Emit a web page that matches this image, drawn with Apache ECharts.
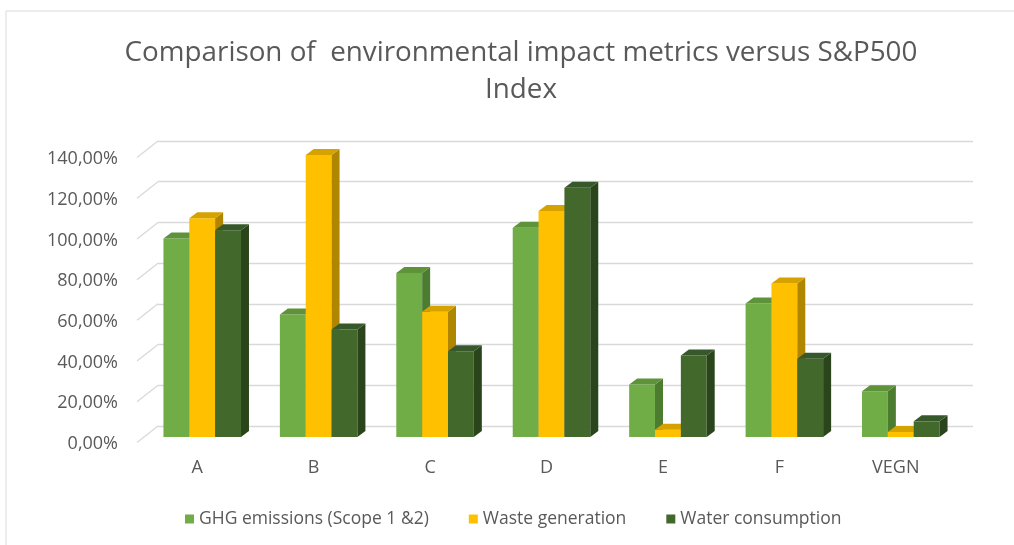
<!DOCTYPE html>
<html>
<head>
<meta charset="utf-8">
<script src="https://cdn.jsdelivr.net/npm/echarts@6/dist/echarts.min.js"></script>
<style>
  html, body { margin: 0; padding: 0; background: #fff; }
  #chart { width: 1014px; height: 545px; }
</style>
</head>
<body>
<div id="chart"></div>
<script>
var categories = ['A', 'B', 'C', 'D', 'E', 'F', 'VEGN'];
var seriesNames = ['GHG emissions (Scope 1 &2)', 'Waste generation', 'Water consumption'];
var ghgValues = [97.5, 60.2, 80.6, 102.8, 25.8, 65.6, 22.5];
var wasteValues = [107.4, 138.5, 61.5, 111.0, 3.6, 75.4, 2.5];
var waterValues = [101.6, 52.8, 42.1, 122.4, 40.0, 38.4, 7.7];
var yTicks = [0, 20, 40, 60, 80, 100, 120, 140];

// front / top / side colours per series
var faces = [
  { front: '#70AD47', top: '#5E933A', side: '#4C7C30' },
  { front: '#FFC000', top: '#D6A200', side: '#B08500' },
  { front: '#43682B', top: '#37582A', side: '#2A451B' }
];

var FONT = 'Open Sans';
var TEXT = '#595959';
var WALL_DX = -21, WALL_DY = 16.5;   // back wall -> front edge
var BAR_DX = -14, BAR_DY = 11;       // back wall -> bar front plane
var DEPTH_X = 8, DEPTH_Y = 6;        // bar depth in projection

function barRenderer(s) {
  return function (params, api) {
    var idx = api.value(0);
    var base = api.coord([idx, 0]);
    var top = api.coord([idx, api.value(1)]);
    var band = api.size([1, 0])[0];
    var w = band * 0.222;
    var x = base[0] + BAR_DX - 1.5 * w + s * w;
    var yb = base[1] + BAR_DY;
    var yt = top[1] + BAR_DY;
    var c = faces[s];
    return {
      type: 'group',
      children: [
        { type: 'rect', shape: { x: x, y: yt, width: w, height: yb - yt }, style: { fill: c.front } },
        { type: 'polygon', shape: { points: [[x + w, yt], [x + w + DEPTH_X, yt - DEPTH_Y], [x + w + DEPTH_X, yb - DEPTH_Y], [x + w, yb]] }, style: { fill: c.side } },
        { type: 'polygon', shape: { points: [[x, yt], [x + DEPTH_X, yt - DEPTH_Y], [x + w + DEPTH_X, yt - DEPTH_Y], [x + w, yt]] }, style: { fill: c.top } }
      ]
    };
  };
}

// diagonal wall ticks plus the value labels at the front edge
function tickRenderer(params, api) {
  var v = api.value(1);
  var p = api.coord([0, v]);
  var band = api.size([1, 0])[0];
  var xl = p[0] - band / 2;
  return {
    type: 'group',
    children: [
      {
        type: 'line',
        shape: { x1: xl, y1: p[1], x2: xl + WALL_DX, y2: p[1] + WALL_DY },
        style: { stroke: '#d9d9d9', lineWidth: 1.3 }
      },
      {
        type: 'text',
        style: {
          x: xl + WALL_DX - 19,
          y: p[1] + 18,
          text: v.toFixed(2).replace('.', ',') + '%',
          align: 'right',
          verticalAlign: 'middle',
          fontFamily: FONT,
          fontSize: 18,
          fill: TEXT
        }
      }
    ]
  };
}

var valueLists = [ghgValues, wasteValues, waterValues];
var barSeries = valueLists.map(function (vals, s) {
  return {
    name: seriesNames[s],
    type: 'custom',
    clip: false,
    itemStyle: { color: faces[s].front },
    renderItem: barRenderer(s),
    encode: { x: 0, y: 1 },
    data: vals.map(function (v, i) { return [i, v]; })
  };
});

var chart = echarts.init(document.getElementById('chart'));
chart.setOption({
  animation: false,
  graphic: [{
    type: 'rect',
    shape: { x: 6, y: 11, width: 1100, height: 600 },
    style: { fill: 'none', stroke: '#d9d9d9', lineWidth: 1 }
  }],
  title: {
    text: 'Comparison of  environmental impact metrics versus S&P500\nIndex',
    left: 516,
    top: 30,
    textAlign: 'center',
    textStyle: { fontFamily: FONT, fontSize: 27.8, fontWeight: 'normal', color: TEXT, lineHeight: 37 }
  },
  legend: {
    data: seriesNames,
    left: 180,
    top: 505,
    icon: 'rect',
    itemWidth: 9,
    itemHeight: 9,
    itemGap: 40,
    textStyle: { fontFamily: FONT, fontSize: 17.5, color: TEXT }
  },
  grid: { left: 158, right: 41, top: 141, bottom: 119 },
  xAxis: {
    type: 'category',
    data: categories,
    axisLine: { show: false },
    axisTick: { show: false },
    axisLabel: { margin: 33, padding: [0, 38, 0, 0], fontFamily: FONT, fontSize: 18, color: TEXT }
  },
  yAxis: {
    type: 'value',
    min: 0,
    max: 140,
    interval: 20,
    axisLine: { show: false },
    axisTick: { show: false },
    axisLabel: { show: false },
    splitLine: { lineStyle: { color: '#d9d9d9', width: 1.3 } }
  },
  series: [{
    type: 'custom',
    silent: true,
    clip: false,
    renderItem: tickRenderer,
    encode: { x: 0, y: 1 },
    data: yTicks.map(function (v) { return [0, v]; })
  }].concat(barSeries)
});
</script>
</body>
</html>
